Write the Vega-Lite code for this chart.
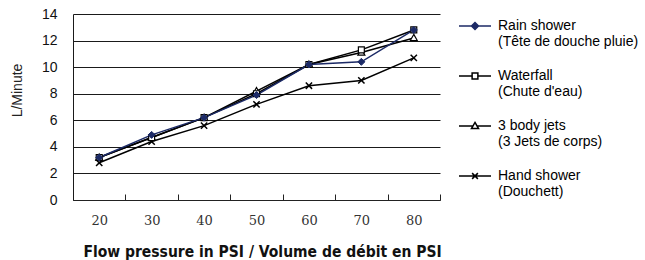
{
  "$schema": "https://vega.github.io/schema/vega-lite/v6.json",
  "width": 367,
  "height": 186,
  "autosize": "none",
  "padding": {"left": 73, "top": 14, "right": 205, "bottom": 60},
  "background": "white",
  "config": {"view": {"stroke": null}, "font": "Liberation Sans"},
  "data": {
    "values": [
      {"series": "Rain shower", "psi": 20, "value": 3.2},
      {"series": "Rain shower", "psi": 30, "value": 4.9},
      {"series": "Rain shower", "psi": 40, "value": 6.2},
      {"series": "Rain shower", "psi": 50, "value": 7.9},
      {"series": "Rain shower", "psi": 60, "value": 10.2},
      {"series": "Rain shower", "psi": 70, "value": 10.4},
      {"series": "Rain shower", "psi": 80, "value": 12.8},
      {"series": "Waterfall", "psi": 20, "value": 3.2},
      {"series": "Waterfall", "psi": 30, "value": 4.7},
      {"series": "Waterfall", "psi": 40, "value": 6.2},
      {"series": "Waterfall", "psi": 50, "value": 8.0},
      {"series": "Waterfall", "psi": 60, "value": 10.2},
      {"series": "Waterfall", "psi": 70, "value": 11.3},
      {"series": "Waterfall", "psi": 80, "value": 12.8},
      {"series": "3 body jets", "psi": 20, "value": 3.2},
      {"series": "3 body jets", "psi": 30, "value": 4.7},
      {"series": "3 body jets", "psi": 40, "value": 6.2},
      {"series": "3 body jets", "psi": 50, "value": 8.2},
      {"series": "3 body jets", "psi": 60, "value": 10.2},
      {"series": "3 body jets", "psi": 70, "value": 11.1},
      {"series": "3 body jets", "psi": 80, "value": 12.2},
      {"series": "Hand shower", "psi": 20, "value": 2.8},
      {"series": "Hand shower", "psi": 30, "value": 4.4},
      {"series": "Hand shower", "psi": 40, "value": 5.6},
      {"series": "Hand shower", "psi": 50, "value": 7.2},
      {"series": "Hand shower", "psi": 60, "value": 8.6},
      {"series": "Hand shower", "psi": 70, "value": 9.0},
      {"series": "Hand shower", "psi": 80, "value": 10.7}
    ]
  },
  "encoding": {
    "x": {
      "field": "psi",
      "type": "ordinal",
      "scale": {"paddingInner": 0, "paddingOuter": 0},
      "axis": {
        "title": "Flow pressure in PSI / Volume de débit en PSI",
        "labelAngle": 0,
        "labelFont": "DejaVu Serif",
        "labelFontSize": 13,
        "labelColor": "#333",
        "labelPadding": 20,
        "tickBand": "extent",
        "tickSize": -6,
        "tickColor": "#222",
        "domainColor": "#222",
        "titleFont": "Liberation Sans Narrow, DejaVu Sans Condensed, Roboto Condensed, Liberation Sans",
        "titleFontSize": 15.5,
        "titleFontWeight": "bold",
        "titleColor": "#111",
        "titleBaseline": "middle",
        "titleY": 51,
        "titleX": 189
      }
    },
    "y": {
      "field": "value",
      "type": "quantitative",
      "scale": {"domain": [0, 14]},
      "axis": {
        "values": [0, 2, 4, 6, 8, 10, 12, 14],
        "title": "L/Minute",
        "ticks": false,
        "labelFont": "Liberation Sans",
        "labelFontSize": 14,
        "labelColor": "#111",
        "labelPadding": 16,
        "grid": true,
        "gridColor": "#1a1a1a",
        "domainColor": "#1a1a1a",
        "titleFont": "Liberation Sans",
        "titleFontSize": 14,
        "titleFontWeight": "normal",
        "titleColor": "#222",
        "titleX": -56,
        "titleY": 76,
        "titleAlign": "center",
        "titleBaseline": "middle"
      }
    }
  },
  "layer": [
    {
      "transform": [{"filter": "datum.series != 'Rain shower'"}],
      "mark": {"type": "line", "stroke": "black", "strokeWidth": 1.5},
      "encoding": {"detail": {"field": "series", "type": "nominal"}}
    },
    {
      "transform": [{"filter": "datum.series == 'Rain shower'"}],
      "mark": {"type": "line", "stroke": "#1c2a66", "strokeWidth": 1.5},
      "encoding": {}
    },
    {
      "transform": [{"filter": "datum.series == 'Hand shower'"}],
      "mark": {"type": "point", "shape": "M-0.9,-0.9L0.9,0.9M-0.9,0.9L0.9,-0.9", "size": 49, "filled": true, "fill": "transparent", "stroke": "black", "strokeWidth": 1.5, "opacity": 1}
    },
    {
      "transform": [{"filter": "datum.series == '3 body jets'"}],
      "mark": {"type": "point", "shape": "M0,-1L1,0.75L-1,0.75Z", "size": 49, "filled": true, "fill": "white", "stroke": "black", "strokeWidth": 1.2, "opacity": 1}
    },
    {
      "transform": [{"filter": "datum.series == 'Waterfall'"}],
      "mark": {"type": "point", "shape": "M-0.85,-0.85H0.85V0.85H-0.85Z", "size": 49, "filled": true, "fill": "white", "stroke": "black", "strokeWidth": 1.2, "opacity": 1}
    },
    {
      "transform": [{"filter": "datum.series == 'Rain shower'"}],
      "mark": {"type": "point", "shape": "M0,-1L1,0L0,1L-1,0Z", "size": 49, "filled": true, "fill": "#1c2a66", "stroke": "#1c2a66", "strokeWidth": 1, "opacity": 1}
    },
    {
      "transform": [{"filter": "false"}],
      "mark": {"type": "point", "filled": true, "opacity": 1},
      "encoding": {
        "stroke": {
          "field": "series",
          "type": "nominal",
          "scale": {"domain": ["Rain shower", "Waterfall", "3 body jets", "Hand shower"], "range": ["#1c2a66", "black", "black", "black"]},
          "legend": {
            "title": null, "orient": "none", "legendX": 385, "legendY": -5,
            "symbolSize": 1024, "symbolStrokeWidth": 1.5, "symbolOpacity": 1,
            "labelExpr": "datum.label == 'Rain shower' ? ['Rain shower', '(Tête de douche pluie)'] : datum.label == 'Waterfall' ? ['Waterfall', \"(Chute d'eau)\"] : datum.label == '3 body jets' ? [' 3 body jets', '(3 Jets de corps)'] : ['Hand shower', '(Douchett)']",
            "labelFont": "Liberation Sans", "labelFontSize": 14, "labelColor": "black",
            "labelBaseline": "middle", "labelOffset": 6, "rowPadding": 10, "labelLimit": 300
          }
        },
        "fill": {
          "field": "series",
          "type": "nominal",
          "scale": {"domain": ["Rain shower", "Waterfall", "3 body jets", "Hand shower"], "range": ["#1c2a66", "white", "white", "transparent"]},
          "legend": {
            "title": null, "orient": "none", "legendX": 385, "legendY": -5,
            "symbolSize": 1024, "symbolStrokeWidth": 1.5, "symbolOpacity": 1,
            "labelExpr": "datum.label == 'Rain shower' ? ['Rain shower', '(Tête de douche pluie)'] : datum.label == 'Waterfall' ? ['Waterfall', \"(Chute d'eau)\"] : datum.label == '3 body jets' ? [' 3 body jets', '(3 Jets de corps)'] : ['Hand shower', '(Douchett)']",
            "labelFont": "Liberation Sans", "labelFontSize": 14, "labelColor": "black",
            "labelBaseline": "middle", "labelOffset": 6, "rowPadding": 10, "labelLimit": 300
          }
        },
        "shape": {
          "field": "series",
          "type": "nominal",
          "scale": {"domain": ["Rain shower", "Waterfall", "3 body jets", "Hand shower"], "range": ["M-1,0H1M0,-0.22L0.22,0L0,0.22L-0.22,0Z", "M-1,0H-0.18M0.18,0H1M-0.18,-0.18H0.18V0.18H-0.18Z", "M-1,0H-0.13M0.13,0H1M0,-0.22L0.22,0.16L-0.22,0.16Z", "M-1,0H1M-0.18,-0.18L0.18,0.18M-0.18,0.18L0.18,-0.18"]},
          "legend": {
            "title": null, "orient": "none", "legendX": 385, "legendY": -5,
            "symbolSize": 1024, "symbolStrokeWidth": 1.5, "symbolOpacity": 1,
            "labelExpr": "datum.label == 'Rain shower' ? ['Rain shower', '(Tête de douche pluie)'] : datum.label == 'Waterfall' ? ['Waterfall', \"(Chute d'eau)\"] : datum.label == '3 body jets' ? [' 3 body jets', '(3 Jets de corps)'] : ['Hand shower', '(Douchett)']",
            "labelFont": "Liberation Sans", "labelFontSize": 14, "labelColor": "black",
            "labelBaseline": "middle", "labelOffset": 6, "rowPadding": 10, "labelLimit": 300
          }
        }
      }
    }
  ]
}
